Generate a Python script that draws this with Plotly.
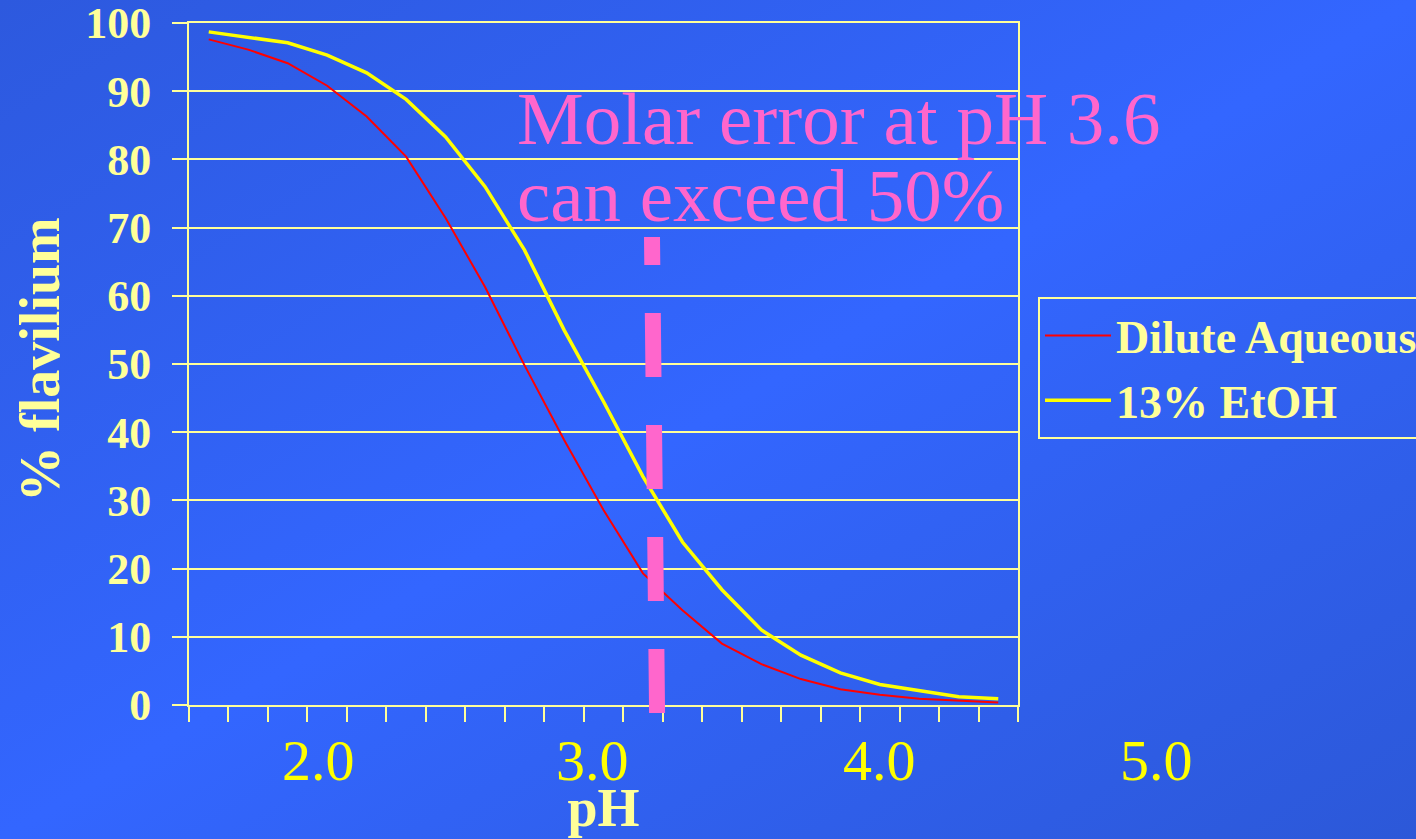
import base64
import plotly.graph_objects as go

# ---- data ----
ph = [1.60, 1.74, 1.88, 2.02, 2.16, 2.30, 2.44, 2.58, 2.72, 2.86, 3.00,
      3.14, 3.28, 3.42, 3.56, 3.70, 3.84, 3.98, 4.12, 4.26, 4.40]
dilute_aqueous = [97.6, 96.1, 94.1, 90.8, 86.3, 80.4, 71.4, 61.3, 49.8, 38.9, 28.6,
                  19.3, 13.9, 9.0, 6.0, 3.8, 2.3, 1.5, 0.9, 0.6, 0.35]
etoh_13 = [98.7, 97.9, 97.1, 95.3, 92.7, 88.8, 83.3, 76.0, 66.7, 55.0, 44.5,
           33.5, 23.9, 16.9, 11.0, 7.3, 4.7, 3.0, 2.1, 1.2, 0.9]
series_names = ["Dilute Aqueous", "13% EtOH"]
y_ticks = [0, 10, 20, 30, 40, 50, 60, 70, 80, 90, 100]
ph_labels = ["2.0", "3.0", "4.0", "5.0"]
ph_label_pos = [1.99, 2.96, 3.98, 4.96]
step = 0.14
x_range = [ph[0] - step / 2, ph[-1] + step / 2]
x_bounds = [round(x_range[0] + k * step, 3) for k in range(len(ph) + 1)]

GRID = "#FFFF99"
SERIF = "Liberation Serif, Times New Roman, serif"

# gradient background as an SVG data URI
svg = ('<svg xmlns="http://www.w3.org/2000/svg" width="1416" height="839" preserveAspectRatio="none">'
       '<defs><linearGradient id="g" x1="0" y1="0" x2="1" y2="1">'
       '<stop offset="0" stop-color="#2D59DE"/>'
       '<stop offset="0.5" stop-color="#3366FF"/>'
       '<stop offset="1" stop-color="#2C58D8"/>'
       '</linearGradient></defs>'
       '<rect width="1416" height="839" fill="url(#g)"/></svg>')
svg_uri = "data:image/svg+xml;base64," + base64.b64encode(svg.encode()).decode()

fig = go.Figure()
fig.add_trace(go.Scatter(x=ph, y=dilute_aqueous, mode="lines", name=series_names[0],
                         line=dict(color="#FF0000", width=2), legendgroup="a"))
fig.add_trace(go.Scatter(x=ph, y=etoh_13, mode="lines", name=series_names[1],
                         line=dict(color="#FFFF00", width=3.5), legendgroup="b"))

L, R, T, B = 189, 398, 23, 134
W, H = 1416, 839
pw, ph_px = W - L - R, H - T - B
x_lo, x_hi = x_range


def ph_to_paper(v):
    return (v - x_lo) / (x_hi - x_lo)


fig.update_layout(
    width=W, height=H,
    margin=dict(l=L, r=R, t=T, b=B, pad=0, autoexpand=False),
    paper_bgcolor="#3366FF",
    plot_bgcolor="rgba(0,0,0,0)",
    font=dict(family=SERIF, color=GRID),
    showlegend=True,
    legend=dict(
        x=(1038 - L) / pw, y=(H - B - 297) / ph_px, xanchor="left", yanchor="top",
        bgcolor="rgba(0,0,0,0)", bordercolor=GRID, borderwidth=2,
        font=dict(family=SERIF, size=46, color=GRID, weight="bold"),
        itemwidth=66, tracegroupgap=2,
    ),
    images=[dict(source=svg_uri, xref="paper", yref="paper",
                 x=-L / pw, y=1 + T / ph_px, sizex=W / pw, sizey=H / ph_px,
                 xanchor="left", yanchor="top", sizing="stretch", layer="below")],
)

fig.update_xaxes(
    range=x_range, showgrid=False, zeroline=False,
    showline=True, linecolor=GRID, linewidth=2, mirror=True,
    tickmode="array", tickvals=x_bounds, ticktext=[""] * len(x_bounds),
    ticks="outside", ticklen=15, tickwidth=2, tickcolor=GRID,
    title=dict(text="<b>pH</b>", font=dict(family=SERIF, size=54, color=GRID), standoff=65),
)
fig.update_yaxes(
    range=[0, 100], showgrid=True, gridcolor=GRID, gridwidth=2, zeroline=False,
    showline=True, linecolor=GRID, linewidth=2, mirror=True,
    tickmode="array", tickvals=y_ticks, ticktext=[f"<b>{v}</b>" for v in y_ticks],
    ticks="outside", ticklen=15, tickwidth=2, tickcolor=GRID,
    tickfont=dict(family=SERIF, size=44, color=GRID),
    ticklabelstandoff=12, ticklabeloverflow="allow",
)

# y-axis title
fig.add_annotation(x=(40 - L) / pw, xref="paper", y=(H - B - 360) / ph_px, yref="paper",
                   text="<b>% flavilium</b>", textangle=-90, showarrow=False,
                   xanchor="center", yanchor="middle",
                   font=dict(family=SERIF, size=56, color=GRID))

# x "tick" labels drawn as free text (as in the original slide)
for lab, pos in zip(ph_labels, ph_label_pos):
    fig.add_annotation(x=ph_to_paper(pos), xref="paper", y=(H - B - 760) / ph_px, yref="paper",
                       text=lab, showarrow=False, xanchor="center", yanchor="middle",
                       font=dict(family=SERIF, size=58, color="#FFFF00"))

# pink note
fig.add_annotation(x=(515 - L) / pw, xref="paper", y=(H - B - 119) / ph_px, yref="paper",
                   text="Molar error at pH 3.6", showarrow=False, xanchor="left", yanchor="middle",
                   font=dict(family=SERIF, size=75, color="#FF66CC"))
fig.add_annotation(x=(515 - L) / pw, xref="paper", y=(H - B - 195) / ph_px, yref="paper",
                   text="can exceed 50%", showarrow=False, xanchor="left", yanchor="middle",
                   font=dict(family=SERIF, size=75, color="#FF66CC"))

# pink dashed marker
fig.add_shape(type="line", xref="x", yref="paper",
              x0=3.190, y0=(H - B - 713) / ph_px, x1=3.172, y1=(H - B - 237) / ph_px,
              line=dict(color="#FF66CC", width=16, dash="64px,48px"), layer="above")

fig.write_html("out.html")
